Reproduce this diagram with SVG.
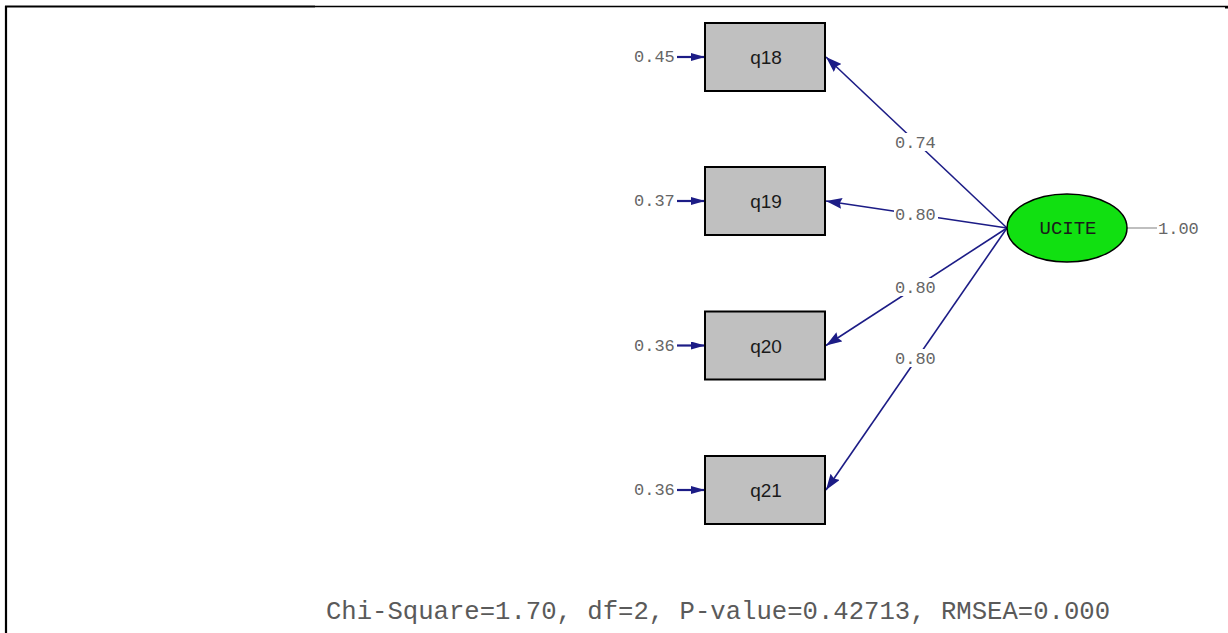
<svg xmlns="http://www.w3.org/2000/svg" width="1228" height="633" viewBox="0 0 1228 633">
<style>
.box{fill:#c0c0c0;stroke:#000;stroke-width:2}
.vt{font-family:"Liberation Sans",Arial,sans-serif;font-size:19px;fill:#1a1a1a;text-anchor:middle}
.lbl{font-family:"Liberation Mono","Courier New",monospace;font-size:17px;fill:#666}
.edge{stroke:#1c1c86;stroke-width:1.6;fill:none}
.err{stroke:#1c1c86;stroke-width:2.2;fill:none}
.bg{fill:#fff}
</style>
<defs>
<marker id="ah" viewBox="0 0 16 11" refX="16" refY="5.5" markerWidth="16" markerHeight="11" markerUnits="userSpaceOnUse" orient="auto">
<path d="M0,0 L16,5.5 L0,11 L2,5.5 Z" fill="#1c1c86"/>
</marker>
<marker id="ahs" viewBox="0 0 14 8" refX="14" refY="4" markerWidth="14" markerHeight="8" markerUnits="userSpaceOnUse" orient="auto">
<path d="M0,0 L14,4 L0,8 Z" fill="#1c1c86"/>
</marker>
</defs>
<rect width="1228" height="633" fill="#fff"/>
<g id="frame">
<line x1="5" y1="6.5" x2="315" y2="6.5" stroke="#000" stroke-width="2.2"/>
<line x1="315" y1="6.5" x2="1228" y2="6.5" stroke="#000" stroke-width="1.3"/>
<line x1="6" y1="6" x2="6" y2="633" stroke="#000" stroke-width="2.2"/>
<rect x="1225" y="6" width="3" height="2.5" fill="#000"/>
</g>
<g id="connectors">
<line class="edge" x1="1007" y1="228" x2="826" y2="57" marker-end="url(#ah)"/>
<line class="edge" x1="1007" y1="228" x2="826" y2="201" marker-end="url(#ah)"/>
<line class="edge" x1="1007" y1="228" x2="826" y2="345.5" marker-end="url(#ah)"/>
<line class="edge" x1="1007" y1="228" x2="826" y2="490" marker-end="url(#ah)"/>
<line class="err" x1="677" y1="57" x2="705" y2="57" marker-end="url(#ahs)"/>
<line class="err" x1="677" y1="201" x2="705" y2="201" marker-end="url(#ahs)"/>
<line class="err" x1="677" y1="345.5" x2="705" y2="345.5" marker-end="url(#ahs)"/>
<line class="err" x1="677" y1="490" x2="705" y2="490" marker-end="url(#ahs)"/>
<line x1="1127" y1="228" x2="1157" y2="228" stroke="#aaa" stroke-width="1.5"/>
<rect class="bg" x="894" y="133" width="44" height="18"/>
<rect class="bg" x="894" y="205" width="44" height="18"/>
<rect class="bg" x="894" y="278" width="44" height="18"/>
<rect class="bg" x="894" y="349" width="44" height="18"/>
<text class="lbl" x="895" y="147.5">0.74</text>
<text class="lbl" x="895" y="219.5">0.80</text>
<text class="lbl" x="895" y="292.5">0.80</text>
<text class="lbl" x="895" y="363.5">0.80</text>
</g>
<g id="q18">
<rect class="box" x="705" y="23" width="120" height="68"/>
<text class="vt" x="766" y="64">q18</text>
<text class="lbl" x="634" y="62">0.45</text>
</g>
<g id="q19">
<rect class="box" x="705" y="167" width="120" height="68"/>
<text class="vt" x="766" y="208">q19</text>
<text class="lbl" x="634" y="206">0.37</text>
</g>
<g id="q20">
<rect class="box" x="705" y="311.5" width="120" height="68"/>
<text class="vt" x="766" y="352.5">q20</text>
<text class="lbl" x="634" y="350.5">0.36</text>
</g>
<g id="q21">
<rect class="box" x="705" y="456" width="120" height="68"/>
<text class="vt" x="766" y="497">q21</text>
<text class="lbl" x="634" y="495">0.36</text>
</g>
<g id="UCITE">
<ellipse cx="1067" cy="228" rx="60" ry="34" fill="#11e011" stroke="#000" stroke-width="1.5"/>
<text x="1068" y="234" font-family="Liberation Mono,'Courier New',monospace" font-size="19" fill="#1a1a1a" text-anchor="middle">UCITE</text>
<text class="lbl" x="1158" y="234">1.00</text>
</g>
<g id="fit">
<text x="326" y="619" font-family="Liberation Mono,'Courier New',monospace" font-size="25" fill="#5a5a5a" textLength="784" lengthAdjust="spacingAndGlyphs">Chi-Square=1.70, df=2, P-value=0.42713, RMSEA=0.000</text>
</g>
</svg>
